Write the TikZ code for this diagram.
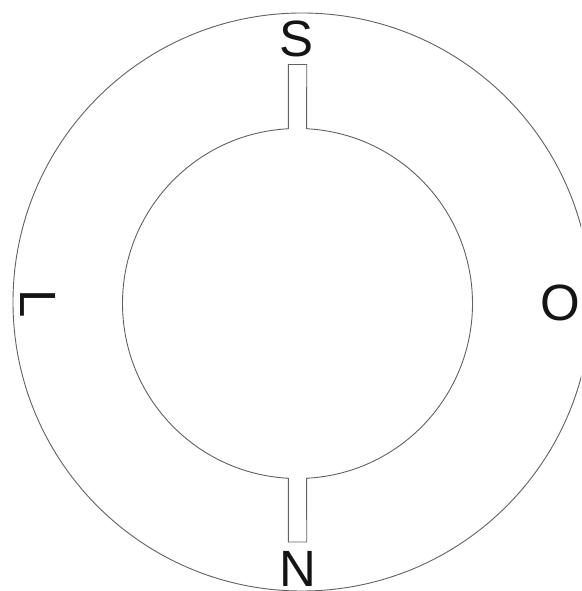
\documentclass[tikz,border=0pt]{standalone}
\usepackage{fontspec}
\setmainfont{Liberation Sans}
\usetikzlibrary{calc}
\tikzset{
  outline/.style={draw=black!62, line width=0.9pt},
  compass/.style={inner sep=0pt, font=\fontsize{51}{51}\selectfont, text=black!92}
}
\begin{document}
\begin{tikzpicture}[x=1pt,y=1pt]
\useasboundingbox (0,0) rectangle (581,591);
\fill[white] (0,0) rectangle (581,591);
\clip (0,0) rectangle (581,591);
% outer circle
\coordinate (oc) at (302,289);
\draw[outline] (oc) circle[radius=289];
% inner circle with two slots
\coordinate (ic) at (297.5,287.5);
\draw[outline] ($(ic)+(93.01:175)$) arc[start angle=93.01,end angle=266.99,radius=175]
  -- (288.3,49) -- (306.7,49) -- ($(ic)+(273.01:175)$)
  arc[start angle=273.01,end angle=446.99,radius=175]
  -- (306.7,526.5) -- (288.3,526.5) -- cycle;
% labels
\node[compass, anchor=base] (s) at (297,534) {S};
\node[compass, anchor=base] (n) at (298,5) {N};
\node[compass, anchor=base] (o) at (560,270) {O};
\node[compass, rotate=-90] (l) at (38,287.5) {L};
\end{tikzpicture}
\end{document}
